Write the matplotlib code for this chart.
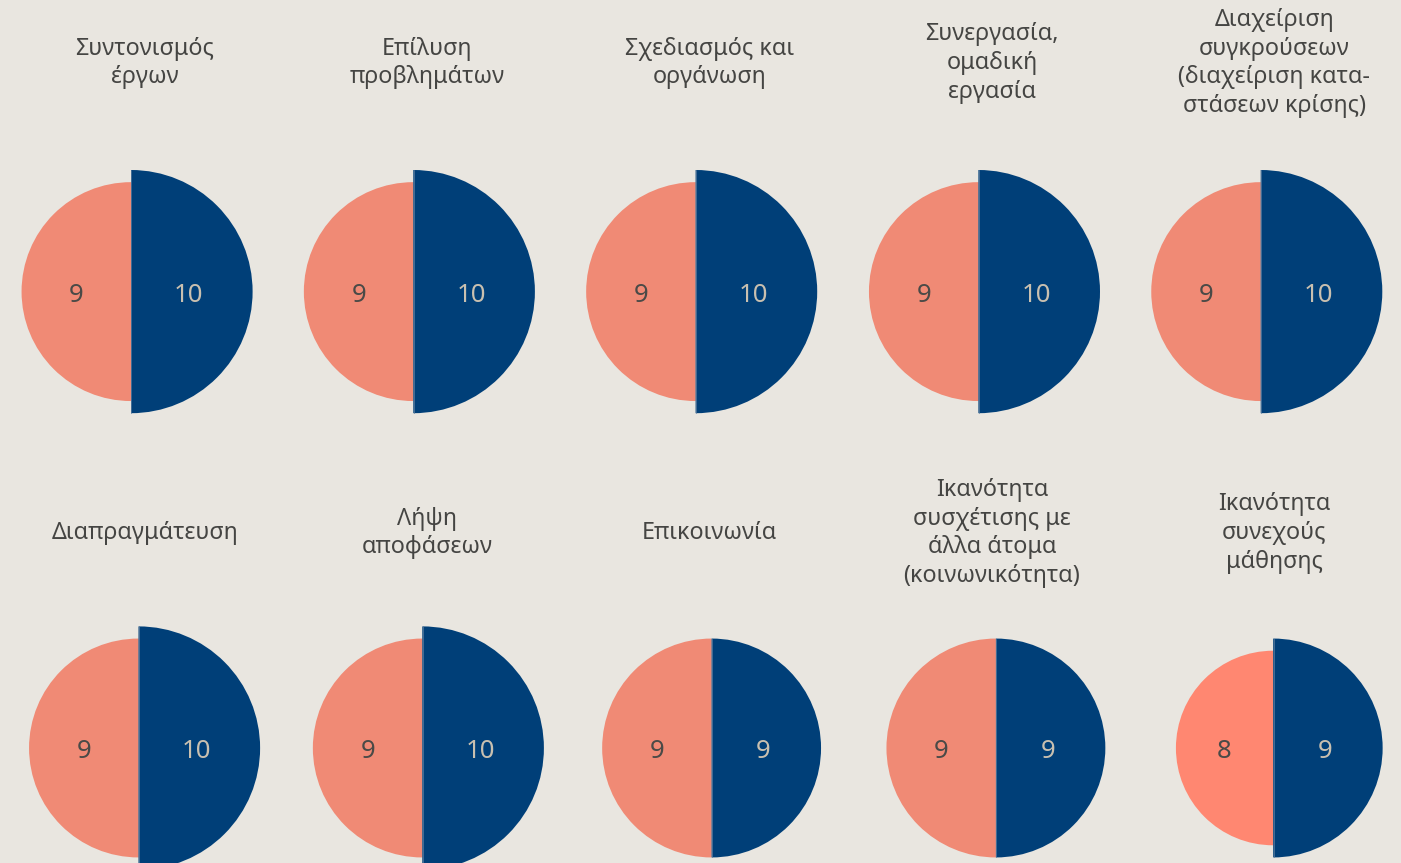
import matplotlib
matplotlib.use("Agg")
import matplotlib.pyplot as plt
from matplotlib.patches import Wedge

# Skills and the two scores shown for each one
skills = [
    "Συντονισμός\nέργων",
    "Επίλυση\nπροβλημάτων",
    "Σχεδιασμός και\nοργάνωση",
    "Συνεργασία,\nομαδική\nεργασία",
    "Διαχείριση\nσυγκρούσεων\n(διαχείριση κατα-\nστάσεων κρίσης)",
    "Διαπραγμάτευση",
    "Λήψη\nαποφάσεων",
    "Επικοινωνία",
    "Ικανότητα\nσυσχέτισης με\nάλλα άτομα\n(κοινωνικότητα)",
    "Ικανότητα\nσυνεχούς\nμάθησης",
]
left_scores = [9, 9, 9, 9, 9, 9, 9, 9, 9, 8]
right_scores = [10, 10, 10, 10, 10, 10, 10, 9, 9, 9]

# Styling
BG = "#E9E6E0"
NAVY = "#003F78"
SALMON = {9: "#F08A75", 8: "#FF8771"}
TITLE_COLOR = "#454543"
LEFT_LABEL = "#4A4A47"
RIGHT_LABEL = "#C9C0B0"
FONT = ["Noto Sans", "DejaVu Sans"]

W, H = 1401, 863
fig = plt.figure(figsize=(W / 100, H / 100), dpi=100, facecolor=BG)
ax = fig.add_axes([0, 0, 1, 1])
ax.set_facecolor(BG)
ax.set_xlim(0, W)
ax.set_ylim(H, 0)
ax.axis("off")

# Layout in pixel units
px_per_point = 12.16          # radius per score unit
col_x0, col_step = 145, 282.3  # title centres
title_y = [63, 533]
circle_y = [291.6, 748.0]
split_offset = [[-14, -14, -14, -13.5, -13.5],
                [-6.5, -5, 2, 4, -1]]

for i, (name, lv, rv) in enumerate(zip(skills, left_scores, right_scores)):
    row, col = divmod(i, 5)
    cx = col_x0 + col_step * col
    sx = cx + split_offset[row][col]
    cy = circle_y[row]
    rl = lv * px_per_point
    rr = rv * px_per_point

    ax.add_patch(Wedge((sx, cy), rl, 90, 270, facecolor=SALMON[lv],
                       edgecolor="none", zorder=2))
    ax.add_patch(Wedge((sx, cy), rr, -90, 90, facecolor=NAVY,
                       edgecolor="none", zorder=3))
    ax.plot([sx + 0.3, sx + 0.3], [cy - rr, cy + rr], color="#5F80A3",
            lw=0.5, zorder=4)

    ax.text(sx - rl / 2, cy + 3.5, str(lv), ha="center", va="center",
            fontsize=18.5, color=LEFT_LABEL, family=FONT, zorder=5)
    ax.text(sx + rr / 2 - 3, cy + 3.5, str(rv), ha="center", va="center",
            fontsize=18.5, color=RIGHT_LABEL, family=FONT, zorder=5)

    ax.text(cx, title_y[row], name, ha="center", va="center",
            fontsize=16.8, color=TITLE_COLOR, family=FONT, linespacing=1.27,
            multialignment="center")

fig.savefig("out.png", dpi=100, facecolor=BG)
